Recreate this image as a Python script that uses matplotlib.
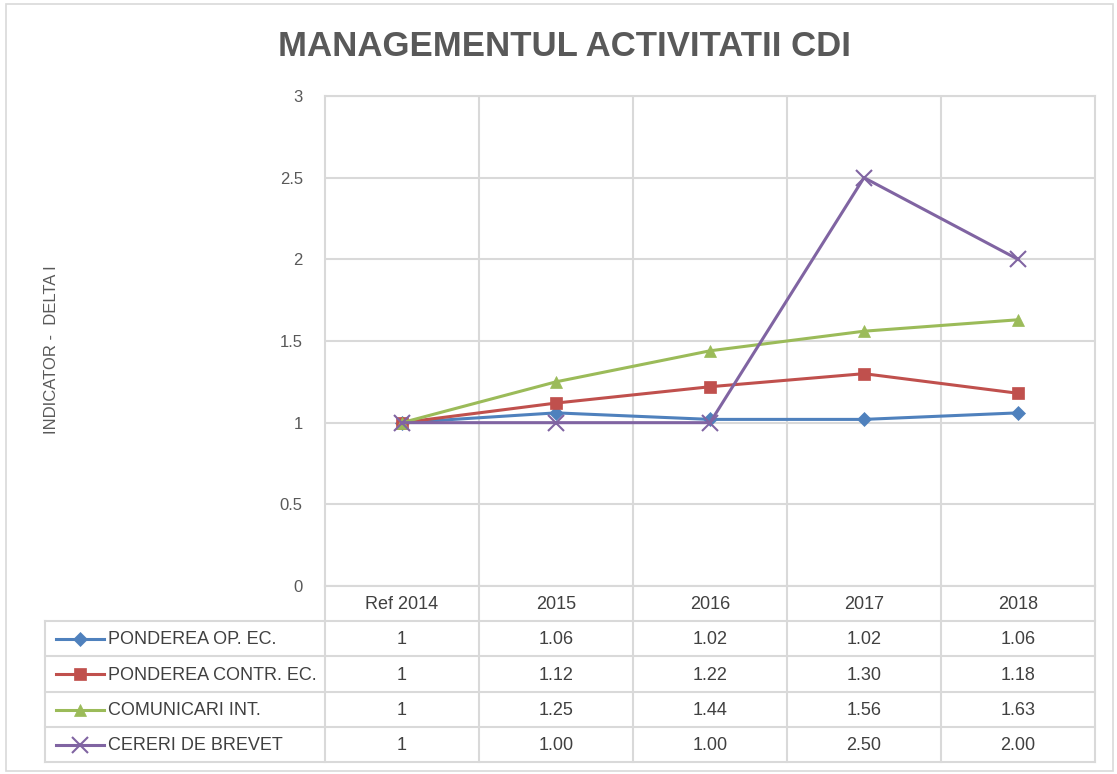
import matplotlib.pyplot as plt
from matplotlib.lines import Line2D
from matplotlib.patches import Rectangle

plt.rcParams['font.family'] = ['Liberation Sans Narrow', 'Liberation Sans', 'DejaVu Sans']

# date
categorii = ["Ref 2014", "2015", "2016", "2017", "2018"]
serii = ["PONDEREA OP. EC.", "PONDEREA CONTR. EC.", "COMUNICARI INT.", "CERERI DE BREVET"]
ponderea_op = [1, 1.06, 1.02, 1.02, 1.06]
ponderea_contr = [1, 1.12, 1.22, 1.30, 1.18]
comunicari = [1, 1.25, 1.44, 1.56, 1.63]
cereri_brevet = [1, 1.00, 1.00, 2.50, 2.00]
etichete_tabel = [
    ["1", "1.06", "1.02", "1.02", "1.06"],
    ["1", "1.12", "1.22", "1.30", "1.18"],
    ["1", "1.25", "1.44", "1.56", "1.63"],
    ["1", "1.00", "1.00", "2.50", "2.00"],
]
y_ticks = [0, 0.5, 1, 1.5, 2, 2.5, 3]

valori = [ponderea_op, ponderea_contr, comunicari, cereri_brevet]
culori = ['#4F81BD', '#C0504D', '#9BBB59', '#8064A2']
markere = ['D', 's', '^', 'x']
msize = [7, 8.5, 9, 11]

W, H = 1117, 774
grid_c = '#D9D9D9'
text_c = '#404040'

fig = plt.figure(figsize=(W / 100, H / 100), dpi=100)

def fx(px):
    return px / W

def fy(py):
    return 1 - py / H

# chenar exterior
fig.patches.append(Rectangle((fx(6), fy(771)), fx(1107), 767 / H, transform=fig.transFigure,
                             fill=False, edgecolor='#D9D9D9', linewidth=1.2))

# zona grafic
x0, x1, y0, y1 = 325, 1095, 96, 586
ax = fig.add_axes([fx(x0), fy(y1), fx(x1 - x0), (y1 - y0) / H])
x = list(range(len(categorii)))
for v, c, m, ms in zip(valori, culori, markere, msize):
    ax.plot(x, v, color=c, linewidth=2.2, marker=m, markersize=ms,
            markeredgewidth=1.5 if m == 'x' else 0.5, markeredgecolor=c, zorder=3)
ax.set_xlim(-0.5, len(categorii) - 0.5)
ax.set_ylim(0, 3)
ax.set_yticks(y_ticks)
ax.set_yticklabels([f"{t:g}" for t in y_ticks], fontsize=12, color='#595959',
                   va='center_baseline')
ax.set_xticks([i + 0.5 for i in range(len(categorii) - 1)], minor=False)
ax.set_xticklabels([])
ax.tick_params(length=0, pad=16)
ax.grid(True, color=grid_c, linewidth=1.5)
for s in ax.spines.values():
    s.set_color(grid_c)
    s.set_linewidth(1.5)

fig.text(fx(565), fy(47), "MANAGEMENTUL ACTIVITATII CDI", ha='center', va='center',
         fontsize=25, fontweight='bold', color='#595959')
fig.text(fx(52), fy(350), "INDICATOR -  DELTA I", rotation=90, ha='center', va='center',
         fontsize=12, color='#595959')

# tabel de date
tx0 = 45
rows_y = [586, 621, 656, 692, 727, 762]
col_w = (x1 - x0) / len(categorii)
tab = fig.add_axes([0, 0, 1, 1], facecolor='none')
tab.set_xlim(0, W)
tab.set_ylim(H, 0)
tab.axis('off')

# linii tabel
for yy in rows_y[1:]:
    tab.plot([tx0, x1], [yy, yy], color=grid_c, linewidth=1.5)
tab.plot([tx0, tx0], [rows_y[1], rows_y[-1]], color=grid_c, linewidth=1.5)
for j in range(len(categorii) + 1):
    xx = x0 + j * col_w
    tab.plot([xx, xx], [rows_y[0], rows_y[-1]], color=grid_c, linewidth=1.5)

for j, cat in enumerate(categorii):
    xc = x0 + (j + 0.5) * col_w
    tab.text(xc, (rows_y[0] + rows_y[1]) / 2 + 1, cat, ha='center', va='center',
             fontsize=13, color=text_c)
    for i in range(len(serii)):
        yc = (rows_y[i + 1] + rows_y[i + 2]) / 2 + 1
        tab.text(xc, yc, etichete_tabel[i][j], ha='center', va='center',
                 fontsize=13, color=text_c)

for i, (nume, c, m, ms) in enumerate(zip(serii, culori, markere, msize)):
    yc = (rows_y[i + 1] + rows_y[i + 2]) / 2
    tab.add_line(Line2D([56, 104], [yc, yc], color=c, linewidth=2.2))
    tab.add_line(Line2D([80], [yc], color=c, marker=m, markersize=ms,
                        markeredgewidth=1.5 if m == 'x' else 0.5, markeredgecolor=c))
    tab.text(108, yc + 1, nume, ha='left', va='center', fontsize=13, color=text_c)

fig.savefig('out.png', dpi=100)
